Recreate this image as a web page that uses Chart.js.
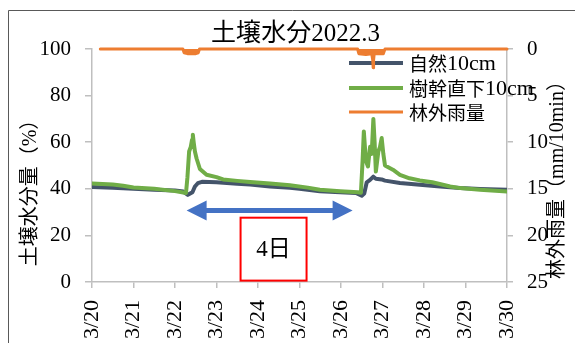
<!DOCTYPE html>
<html>
<head>
<meta charset="utf-8">
<script src="https://cdn.jsdelivr.net/npm/chart.js@4/dist/chart.umd.min.js"></script>
<style>
  html, body { margin: 0; padding: 0; background: #fff; overflow: hidden; }
  canvas { display: block; }
</style>
</head>
<body>
<canvas id="c" width="575" height="343"></canvas>
<script>
// Date tick labels; x values are days counted from 3/20 00:00
const dateLabels = ['3/20', '3/21', '3/22', '3/23', '3/24', '3/25', '3/26', '3/27', '3/28', '3/29', '3/30'];

// 自然10cm soil moisture (%)
const naturalDays = [0, 0.5, 1.0, 1.5, 2.0, 2.2, 2.31, 2.42, 2.48, 2.55,
  2.65, 3.0, 3.5, 3.81, 4.29, 4.77, 5.0, 5.49, 5.98, 6.36,
  6.5, 6.56, 6.62, 6.7, 6.78, 6.84, 6.98, 7.06, 7.42, 7.9,
  8.39, 8.87, 9.35, 10];
const naturalMoisture = [40.8, 40.5, 40.0, 39.6, 39.3, 38.8, 37.4, 38.5, 41.0, 42.4,
  43.0, 42.8, 42.2, 41.8, 41.0, 40.4, 40.0, 38.9, 38.5, 38.2,
  37.0, 38.0, 42.8, 43.8, 45.2, 44.3, 44.0, 43.5, 42.5, 41.7,
  41.0, 40.3, 39.9, 39.6];

// 樹幹直下10cm soil moisture (%)
const trunkDays = [0, 0.5, 0.75, 1.0, 1.5, 2.0, 2.2, 2.265, 2.3, 2.34,
  2.38, 2.41, 2.43, 2.45, 2.48, 2.52, 2.6, 2.76, 3.0, 3.16,
  3.5, 3.81, 4.29, 4.77, 5.2, 5.49, 5.98, 6.41, 6.48, 6.52,
  6.55, 6.6, 6.65, 6.7, 6.74, 6.78, 6.81, 6.84, 6.9, 6.94,
  6.98, 7.02, 7.06, 7.25, 7.42, 7.65, 7.9, 8.2, 8.63, 8.87,
  9.35, 10];
const trunkMoisture = [42.3, 41.8, 41.3, 40.6, 40.0, 39.0, 38.4, 38.2, 45, 56,
  58, 61, 63.2, 60, 56, 53, 48.5, 46, 45, 44,
  43.4, 42.9, 42.3, 41.5, 40.5, 39.6, 39.0, 38.5, 38.3, 52,
  64.6, 52, 49.6, 58, 55, 70, 60, 47.4, 56, 58,
  61.8, 55, 50, 48.2, 46, 44.5, 43.6, 42.8, 41.0, 40.3,
  39.6, 38.8];

// 林外雨量 (mm/10min), plotted on the reversed right axis
const rainDays = [0.2, 2.19, 2.22, 2.3, 2.5, 2.56, 2.59,
  6.40, 6.43, 6.6, 6.74, 6.765, 6.775, 6.785, 6.8, 7.02, 7.06, 10];
const rainAmount = [0, 0, 0.4, 0.5, 0.5, 0.4, 0,
  0, 0.5, 0.6, 0.5, 1.2, 2.0, 1.2, 0.5, 0.5, 0, 0];

// Four-day interval marker between the two rain events
const spanStartDay = 2.28;
const spanDays = 4;
const spanLabel = '4日';

const toPoints = (xs, ys) => xs.map((x, i) => ({ x: x, y: ys[i] }));

const SERIF = "'Liberation Serif', 'Noto Sans CJK JP', serif";
const CJK = "'Noto Sans CJK JP', sans-serif";
const AXIS_GREY = '#BFBFBF';

// Draws text left-aligned, using separate fonts for CJK and Latin runs
function drawRuns(ctx, text, x, y, cjkFont, latinFont) {
  const runs = text.match(/[\u3000-\u9fff\uff00-\uffef]+|[^\u3000-\u9fff\uff00-\uffef]+/g) || [];
  let cx = x;
  runs.forEach((r) => {
    ctx.font = /[\u3000-\u9fff\uff00-\uffef]/.test(r) ? cjkFont : latinFont;
    ctx.fillText(r, cx, y);
    cx += ctx.measureText(r).width;
  });
}

const decor = {
  id: 'decor',
  beforeDraw(chart) {
    const ctx = chart.ctx;
    ctx.save();
    ctx.fillStyle = '#fff';
    ctx.fillRect(0, 0, chart.width, chart.height);
    // chart frame
    ctx.strokeStyle = '#595959';
    ctx.lineWidth = 1;
    ctx.beginPath();
    ctx.moveTo(8.5, chart.height + 2);
    ctx.lineTo(8.5, 10.5);
    ctx.lineTo(chart.width + 2, 10.5);
    ctx.stroke();
    ctx.restore();
  },
  beforeDatasetsDraw(chart) {
    // legend inside the plot, upper right
    const ctx = chart.ctx;
    const rows = [63, 88, 112];
    ctx.save();
    ctx.textBaseline = 'middle';
    ctx.textAlign = 'left';
    chart.data.datasets.forEach((ds, i) => {
      ctx.strokeStyle = ds.borderColor;
      ctx.lineWidth = ds.borderWidth;
      ctx.beginPath();
      ctx.moveTo(349, rows[i]);
      ctx.lineTo(403, rows[i]);
      ctx.stroke();
      ctx.fillStyle = '#000';
      drawRuns(ctx, ds.label, 409, rows[i] + 1, '19px ' + CJK, '22px ' + SERIF);
    });
    ctx.restore();
  },
  afterDatasetsDraw(chart) {
    const ctx = chart.ctx;
    const xs = chart.scales.x, ys = chart.scales.y;
    const area = chart.chartArea;
    ctx.save();

    // double-headed arrow spanning the interval
    const x1 = xs.getPixelForValue(spanStartDay);
    const x2 = xs.getPixelForValue(spanStartDay + spanDays);
    const yA = ys.getPixelForValue(30.7);
    const head = 20, hh = 10, hs = 2.5;
    ctx.fillStyle = '#4472C4';
    ctx.beginPath();
    ctx.moveTo(x1, yA);
    ctx.lineTo(x1 + head, yA - hh);
    ctx.lineTo(x1 + head, yA - hs);
    ctx.lineTo(x2 - head, yA - hs);
    ctx.lineTo(x2 - head, yA - hh);
    ctx.lineTo(x2, yA);
    ctx.lineTo(x2 - head, yA + hh);
    ctx.lineTo(x2 - head, yA + hs);
    ctx.lineTo(x1 + head, yA + hs);
    ctx.lineTo(x1 + head, yA + hh);
    ctx.closePath();
    ctx.fill();

    // label box
    const bx1 = xs.getPixelForValue(3.58), bx2 = xs.getPixelForValue(5.17);
    const by1 = ys.getPixelForValue(27.6), by2 = ys.getPixelForValue(0.6);
    ctx.fillStyle = '#fff';
    ctx.fillRect(bx1, by1, bx2 - bx1, by2 - by1);
    ctx.strokeStyle = '#FF0000';
    ctx.lineWidth = 2;
    ctx.strokeRect(bx1, by1, bx2 - bx1, by2 - by1);
    ctx.fillStyle = '#000';
    ctx.font = '23px ' + SERIF;
    ctx.textAlign = 'center';
    ctx.textBaseline = 'middle';
    ctx.fillText(spanLabel, (bx1 + bx2) / 2, (by1 + by2) / 2 + 1);

    // chart title
    ctx.font = '25px ' + SERIF;
    ctx.fillText('土壌水分2022.3', (area.left + area.right) / 2 - 4, 34);

    // axis titles
    ctx.font = '20px ' + SERIF;
    ctx.save();
    ctx.translate(31, 188);
    ctx.rotate(-Math.PI / 2);
    ctx.fillText('土壌水分量（%）', 0, 0);
    ctx.restore();
    ctx.save();
    ctx.translate(558, 175);
    ctx.rotate(-Math.PI / 2);
    ctx.fillText('林外雨量（mm/10min）', 0, 0);
    ctx.restore();

    ctx.restore();
  }
};

const tickFont = { family: SERIF, size: 21 };

new Chart(document.getElementById('c'), {
  type: 'line',
  data: {
    datasets: [
      {
        label: '自然10cm',
        data: toPoints(naturalDays, naturalMoisture),
        borderColor: '#44546A',
        borderWidth: 4,
        yAxisID: 'y',
        order: 3
      },
      {
        label: '樹幹直下10cm',
        data: toPoints(trunkDays, trunkMoisture),
        borderColor: '#70AD47',
        borderWidth: 4,
        yAxisID: 'y',
        order: 2
      },
      {
        label: '林外雨量',
        data: toPoints(rainDays, rainAmount),
        borderColor: '#ED7D31',
        backgroundColor: '#ED7D31',
        borderWidth: 3,
        fill: 'origin',
        yAxisID: 'y2',
        order: 1,
        clip: 4
      }
    ]
  },
  options: {
    responsive: false,
    animation: false,
    devicePixelRatio: 1,
    layout: { padding: { top: 49, left: 0, right: 0, bottom: 0 } },
    elements: {
      point: { radius: 0 },
      line: { tension: 0, borderJoinStyle: 'round', borderCapStyle: 'round' }
    },
    plugins: {
      legend: { display: false },
      title: { display: false },
      tooltip: { enabled: false },
      filler: { propagate: false }
    },
    scales: {
      x: {
        type: 'linear',
        min: 0,
        max: 10,
        afterFit(s) { s.height = 61; },
        border: { color: AXIS_GREY, width: 1.5 },
        grid: { drawOnChartArea: false, drawTicks: true, tickLength: 6, color: AXIS_GREY, lineWidth: 1.5 },
        ticks: {
          stepSize: 1,
          autoSkip: false,
          minRotation: 90,
          maxRotation: 90,
          padding: 12,
          color: '#000',
          font: { family: SERIF, size: 22 },
          callback: (v) => dateLabels[Math.round(v)]
        }
      },
      y: {
        position: 'left',
        min: 0,
        max: 100,
        afterFit(s) { s.width = 92; },
        border: { color: AXIS_GREY, width: 1.5 },
        grid: { drawOnChartArea: false, drawTicks: true, tickLength: 7, color: AXIS_GREY, lineWidth: 1.5 },
        ticks: { stepSize: 20, padding: 14, color: '#000', font: tickFont }
      },
      y2: {
        position: 'right',
        min: 0,
        max: 25,
        reverse: true,
        afterFit(s) { s.width = 68; },
        border: { color: AXIS_GREY, width: 1.5 },
        grid: { drawOnChartArea: false, drawTicks: true, tickLength: 6, color: AXIS_GREY, lineWidth: 1.5 },
        ticks: { stepSize: 5, padding: 14, color: '#000', font: tickFont }
      }
    }
  },
  plugins: [decor]
});
</script>
</body>
</html>
